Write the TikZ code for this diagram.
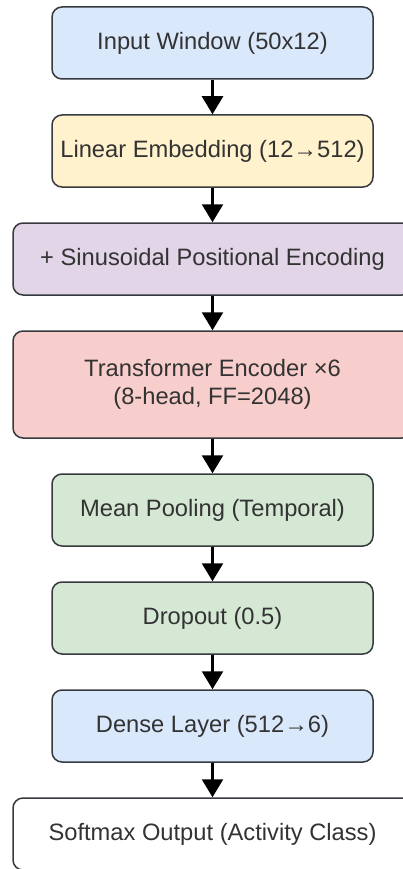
\documentclass[tikz,border=0pt]{standalone}
\usepackage{fontspec}
\setmainfont{Liberation Sans}
\usepackage{xcolor}
\usetikzlibrary{arrows.meta, positioning}
\definecolor{inblue}{HTML}{DAE8FC}
\definecolor{embyellow}{HTML}{FFF2CC}
\definecolor{pepurple}{HTML}{E1D5E7}
\definecolor{encred}{HTML}{F8CECC}
\definecolor{poolgreen}{HTML}{D5E8D4}
\definecolor{edge}{HTML}{36393D}
\definecolor{ink}{HTML}{333333}

\begin{document}
\begin{tikzpicture}[x=1pt, y=1pt,
  box/.style={draw=edge, line width=1.5pt, rounded corners=10pt, align=center,
              inner sep=0pt, minimum width=321pt, minimum height=72pt,
              font=\fontsize{23.7}{28.5}\selectfont, text=ink},
  wide/.style={minimum width=399pt},
  arr/.style={-{Triangle[length=18pt, width=21pt]}, line width=2.5pt, color=black},
  node distance=34.5pt,
]
\clip (0,0) rectangle (403,-869);
\node[box, fill=inblue] (win) at (212.5,-43) {Input Window (50x12)};
\node[box, fill=embyellow, below=of win] (emb) {Linear Embedding (12→512)};
\node[box, wide, fill=pepurple, below=of emb] (pos) {+ Sinusoidal Positional Encoding};
\node[box, wide, fill=encred, minimum height=107pt, below=of pos] (enc)
  {Transformer Encoder ×6\\(8-head, FF=2048)};
\node[box, fill=poolgreen, below=of enc] (pool) {Mean Pooling (Temporal)};
\node[box, fill=poolgreen, below=of pool] (drop) {Dropout (0.5)};
\node[box, fill=inblue, below=of drop] (dense) {Dense Layer (512→6)};
\node[box, wide, fill=white, below=of dense] (soft) {Softmax Output (Activity Class)};
\draw[arr] (win) -- (emb);
\draw[arr] (emb) -- (pos);
\draw[arr] (pos) -- (enc);
\draw[arr] (enc) -- (pool);
\draw[arr] (pool) -- (drop);
\draw[arr] (drop) -- (dense);
\draw[arr] (dense) -- (soft);
\end{tikzpicture}
\end{document}
